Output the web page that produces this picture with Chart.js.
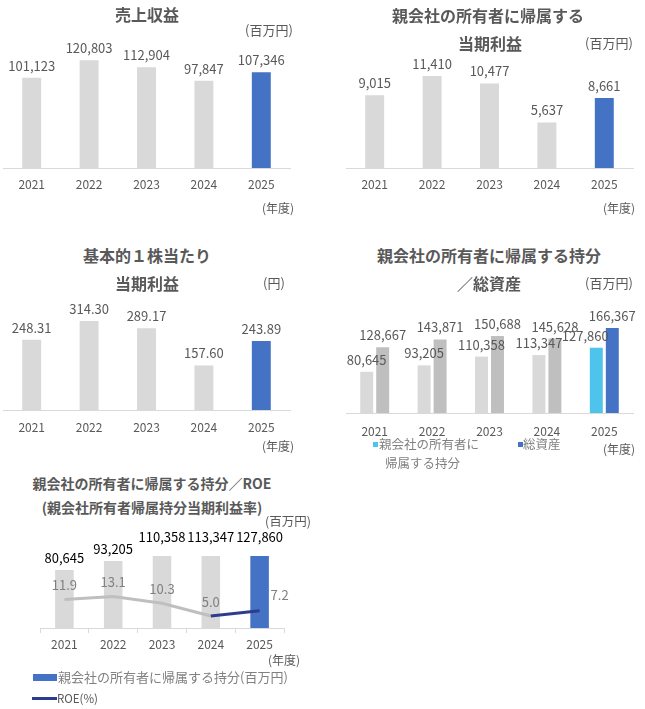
<!DOCTYPE html>
<html lang="ja">
<head>
<meta charset="utf-8">
<script src="https://cdn.jsdelivr.net/npm/chart.js@4.4.1/dist/chart.umd.min.js"></script>
<style>
  body { margin: 0; background: #fff; font-family: 'Noto Sans CJK JP', sans-serif; }
  #page { position: relative; width: 645px; height: 709px; overflow: hidden; }
  .box { position: absolute; }
  .t { position: absolute; white-space: nowrap; color: #595959; }
  .sw { position: absolute; }
</style>
</head>
<body>
<div id="page">
  <div class="box" id="b1"><canvas id="c1"></canvas></div>
  <div class="box" id="b2"><canvas id="c2"></canvas></div>
  <div class="box" id="b3"><canvas id="c3"></canvas></div>
  <div class="box" id="b4"><canvas id="c4"></canvas></div>
  <div class="box" id="b5"><canvas id="c5"></canvas></div>
</div>
<script>
// data
const years = ["2021", "2022", "2023", "2024", "2025"];
const revenue = [101123, 120803, 112904, 97847, 107346];
const netIncome = [9015, 11410, 10477, 5637, 8661];
const eps = [248.31, 314.30, 289.17, 157.60, 243.89];
const equity = [80645, 93205, 110358, 113347, 127860];
const totalAssets = [128667, 143871, 150688, 145628, 166367];
const roe = [11.9, 13.1, 10.3, 5.0, 7.2];

const FONT = "'Noto Sans CJK JP', sans-serif";
const GRAY = "#d9d9d9";
const GRAY2 = "#bfbfbf";
const BLUE = "#4472c4";
const SKY = "#4ec3ec";
const NAVY = "#2e3c8e";
const TXT = "#595959";
const PADX = 20;

Chart.defaults.font.family = FONT;
Chart.defaults.color = TXT;

function fmtInt(v) { return v.toLocaleString("en-US"); }
function fmt2(v) { return v.toFixed(2); }
function fmt1(v) { return v.toFixed(1); }

function colorsLastBlue(base, last) {
  const out = [];
  for (let i = 0; i < years.length; i++) out.push(i === years.length - 1 ? last : base);
  return out;
}

// draws value labels above bars / points
const valueLabels = {
  id: "valueLabels",
  afterDatasetsDraw(chart) {
    const ctx = chart.ctx;
    const area = chart.chartArea;
    chart.data.datasets.forEach(function (ds, di) {
      const cfg = ds.valueLabel;
      if (!cfg) return;
      const meta = chart.getDatasetMeta(di);
      ctx.save();
      ctx.font = cfg.size + "px " + FONT;
      ctx.fillStyle = cfg.color;
      ctx.textAlign = "center";
      ctx.textBaseline = "middle";
      meta.data.forEach(function (el, i) {
        let x = el.x + (cfg.shiftX ? (cfg.shiftX[i] || 0) : 0);
        let y = el.y - cfg.gap;
        if (el.y < area.top) y = area.top - (cfg.clampGap || cfg.gap);
        if (cfg.side && cfg.side[i] === "right") {
          x = el.x + 20;
          y = el.y - 16;
        }
        ctx.fillText(cfg.format(ds.data[i]), x, y);
      });
      ctx.restore();
    });
  }
};

// area = plot area in page pixels; axis height = tick + 2*padding + label line
function place(id, area, padTop, tick, pad) {
  const el = document.getElementById(id);
  const axisH = tick + pad * 2 + 15;
  el.style.left = (area[0] - PADX) + "px";
  el.style.width = (area[2] - area[0] + PADX * 2) + "px";
  el.style.top = (area[1] - padTop) + "px";
  el.style.height = (padTop + area[3] - area[1] + axisH) + "px";
}

function addText(text, x, y, size, opts) {
  opts = opts || {};
  const d = document.createElement("div");
  d.className = "t";
  d.textContent = text;
  const lh = Math.round(size * 1.4);
  d.style.fontSize = size + "px";
  d.style.lineHeight = lh + "px";
  d.style.top = (y - lh / 2) + "px";
  d.style.left = x + "px";
  if (opts.bold) d.style.fontWeight = "bold";
  if (opts.color) d.style.color = opts.color;
  if (opts.center) d.style.transform = "translateX(-50%)";
  document.getElementById("page").appendChild(d);
}

function addSwatch(x, y, w, h, color) {
  const d = document.createElement("div");
  d.className = "sw";
  d.style.left = x + "px";
  d.style.top = y + "px";
  d.style.width = w + "px";
  d.style.height = h + "px";
  d.style.background = color;
  document.getElementById("page").appendChild(d);
}

function xAxis(pad, ticks) {
  return {
    type: "category",
    offset: true,
    grid: ticks
      ? { display: true, drawOnChartArea: false, drawTicks: true, tickLength: 5, offset: true, color: GRAY }
      : { display: false, drawTicks: false },
    border: { display: true, color: GRAY, width: 1 },
    ticks: { padding: pad, color: TXT, font: { size: 12, lineHeight: 1.25 } }
  };
}

function baseOptions(padTop, scales) {
  return {
    responsive: true,
    maintainAspectRatio: false,
    animation: false,
    layout: { padding: { top: padTop, left: PADX, right: PADX, bottom: 0 } },
    plugins: { legend: { display: false }, tooltip: { enabled: false }, title: { display: false } },
    scales: scales
  };
}

function singleBar(canvasId, values, max, fmt, pad) {
  return new Chart(document.getElementById(canvasId), {
    type: "bar",
    data: {
      labels: years,
      datasets: [{
        data: values,
        backgroundColor: colorsLastBlue(GRAY, BLUE),
        barPercentage: 0.33,
        categoryPercentage: 1,
        valueLabel: { size: 13, color: TXT, gap: 12, format: fmt }
      }]
    },
    options: baseOptions(30, {
      x: xAxis(pad, false),
      y: { display: false, min: 0, max: max }
    }),
    plugins: [valueLabels]
  });
}

// 1: 売上収益
place("b1", [3, 43, 290, 168], 30, 0, 9);
singleBar("c1", revenue, 140000, fmtInt, 9);
addText("売上収益", 147, 14, 16, { bold: true, center: true });
addText("(百万円)", 245, 30, 13);
addText("(年度)", 262, 207, 12);

// 2: 親会社の所有者に帰属する当期利益
place("b2", [346, 55, 633, 168], 30, 0, 9);
singleBar("c2", netIncome, 14000, fmtInt, 9);
addText("親会社の所有者に帰属する", 488, 15, 16, { bold: true, center: true });
addText("当期利益", 490, 43, 16, { bold: true, center: true });
addText("(百万円)", 585, 43, 13);
addText("(年度)", 603, 207, 12);

// 3: 基本的１株当たり当期利益
place("b3", [3, 311, 290, 410], 30, 0, 10);
singleBar("c3", eps, 350, fmt2, 10);
addText("基本的１株当たり", 147, 255, 16, { bold: true, center: true });
addText("当期利益", 147, 283, 16, { bold: true, center: true });
addText("(円)", 263, 283, 13);
addText("(年度)", 262, 445, 12);

// 4: 持分 / 総資産
place("b4", [346, 321, 633, 413], 30, 0, 11);
new Chart(document.getElementById("c4"), {
  type: "bar",
  data: {
    labels: years,
    datasets: [
      {
        label: "親会社の所有者に帰属する持分",
        data: equity,
        backgroundColor: colorsLastBlue(GRAY, SKY),
        barPercentage: 0.81,
        categoryPercentage: 0.557,
        valueLabel: { size: 13, color: TXT, gap: 12, format: fmtInt, shiftX: [0, 0, 0, 0, -11] }
      },
      {
        label: "総資産",
        data: totalAssets,
        backgroundColor: colorsLastBlue(GRAY2, BLUE),
        barPercentage: 0.81,
        categoryPercentage: 0.557,
        valueLabel: { size: 13, color: TXT, gap: 12, format: fmtInt }
      }
    ]
  },
  options: baseOptions(30, {
    x: xAxis(11, false),
    y: { display: false, min: 0, max: 180000 }
  }),
  plugins: [valueLabels]
});
addText("親会社の所有者に帰属する持分", 489, 255, 16, { bold: true, center: true });
addText("／総資産", 489, 283, 16, { bold: true, center: true });
addText("(百万円)", 585, 283, 13);
addText("(年度)", 603, 448, 12);
addSwatch(373, 442, 5, 5, SKY);
addText("親会社の所有者に", 379, 444, 12.5, { color: "#808080" });
addText("帰属する持分", 385, 463, 12.5, { color: "#808080" });
addSwatch(518, 442, 5, 5, BLUE);
addText("総資産", 523, 444, 12.5, { color: "#808080" });

// 5: 持分 / ROE
place("b5", [40, 556, 284, 628], 30, 5, 4);
new Chart(document.getElementById("c5"), {
  type: "bar",
  data: {
    labels: years,
    datasets: [
      {
        type: "line",
        label: "ROE(%)",
        data: roe,
        yAxisID: "y2",
        order: 0,
        borderColor: GRAY2,
        borderWidth: 3,
        tension: 0,
        pointRadius: 0,
        segment: {
          borderColor: function (c) { return c.p0DataIndex >= 3 ? NAVY : GRAY2; }
        },
        valueLabel: { size: 13, color: "#7f7f7f", gap: 14, format: fmt1, side: ["top", "top", "top", "top", "right"] }
      },
      {
        label: "親会社の所有者に帰属する持分(百万円)",
        data: equity,
        yAxisID: "y",
        order: 1,
        clip: 0,
        backgroundColor: colorsLastBlue(GRAY, BLUE),
        barPercentage: 0.38,
        categoryPercentage: 1,
        valueLabel: { size: 13, color: "#000000", gap: 12, clampGap: 19, format: fmtInt }
      }
    ]
  },
  options: baseOptions(30, {
    x: xAxis(4, true),
    y: { display: false, min: 0, max: 100000 },
    y2: { display: false, position: "right", min: 0, max: 30 }
  }),
  plugins: [valueLabels]
});
addText("親会社の所有者に帰属する持分／ROE", 152, 483, 14, { bold: true, center: true });
addText("(親会社所有者帰属持分当期利益率)", 152, 507, 14, { bold: true, center: true });
addText("(百万円)", 265, 521, 12.5);
addText("(年度)", 268, 659, 12);
addSwatch(33, 674, 24, 7, BLUE);
addText("親会社の所有者に帰属する持分(百万円)", 58, 677, 13, { color: "#808080" });
addSwatch(32, 697, 25, 2.5, NAVY);
addText("ROE(%)", 57, 698, 11.5);
</script>
</body>
</html>
